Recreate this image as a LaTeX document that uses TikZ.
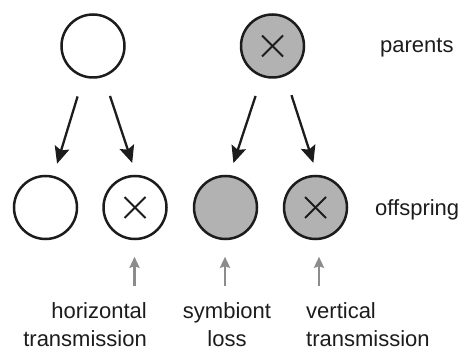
\documentclass[tikz,border=0pt]{standalone}
\usepackage{fontspec}
\setmainfont{Liberation Sans}
\usetikzlibrary{arrows.meta}
\definecolor{cellgray}{RGB}{178,178,178}
\definecolor{inkline}{RGB}{28,28,28}
\definecolor{hintgray}{RGB}{140,140,140}
\tikzset{
  cell/.style={circle, draw=inkline, line width=2.5pt, minimum size=63pt, inner sep=0pt},
  infected/.style={path picture={
    \draw[inkline, line width=2pt]
      ([shift={(-10.5,-10.5)}]path picture bounding box.center) --
      ([shift={(10.5,10.5)}]path picture bounding box.center);
    \draw[inkline, line width=2pt]
      ([shift={(-10.5,10.5)}]path picture bounding box.center) --
      ([shift={(10.5,-10.5)}]path picture bounding box.center);}},
  lost/.style={fill=cellgray},
  descent/.style={draw=inkline, line width=2.3pt,
    -{Stealth[length=17pt, width=15pt, inset=3pt]},
    shorten <=20pt, shorten >=12.5pt},
  pointer/.style={draw=hintgray, line width=2.4pt,
    -{Stealth[length=11pt, width=10pt, inset=1.5pt]}, shorten >=16.5pt},
  caption/.style={font=\fontsize{22}{27.5}\selectfont, text=inkline, inner sep=0pt}
}
\begin{document}
\begin{tikzpicture}[x=1pt, y=-1pt]
  \useasboundingbox (0,0) rectangle (462,352);

  % parents
  \node[cell] (p1) at (93,46) {};
  \node[cell, lost, infected] (p2) at (272.5,46) {};

  % offspring
  \node[cell] (o1) at (45.5,207.5) {};
  \node[cell, infected] (o2) at (135,207.5) {};
  \node[cell, lost] (o3) at (225.5,207.5) {};
  \node[cell, lost, infected] (o4) at (315.5,207.5) {};

  % inheritance arrows
  \draw[descent] (p1.-107.7) -- (o1.76.3);
  \draw[descent] (p1.-71.5) -- (o2.88);
  \draw[descent] (p2.-109.5) -- (o3.83);
  \draw[descent] (p2.-67.7) -- (o4.87);

  % row labels
  \node[caption, anchor=base west] (lp) at (380,53) {parents};
  \node[caption, anchor=base west] (lo) at (375,216) {offspring};

  % outcome labels (base anchor sits on the last line)
  \node[caption, anchor=base east, align=right] (th) at (147,346) {horizontal\\transmission};
  \node[caption, anchor=base, align=center] (ts) at (227,346) {symbiont\\loss};
  \node[caption, anchor=base west, align=left] (tv) at (306,346) {vertical\\transmission};

  % pointers from labels up to the offspring
  \coordinate (g1) at (134.5,286);
  \coordinate (g2) at (225,286);
  \coordinate (g3) at (319,286);
  \draw[pointer] (g1) -- (g1 |- o2.south);
  \draw[pointer] (g2) -- (g2 |- o3.south);
  \draw[pointer] (g3) -- (g3 |- o4.south);
\end{tikzpicture}
\end{document}
